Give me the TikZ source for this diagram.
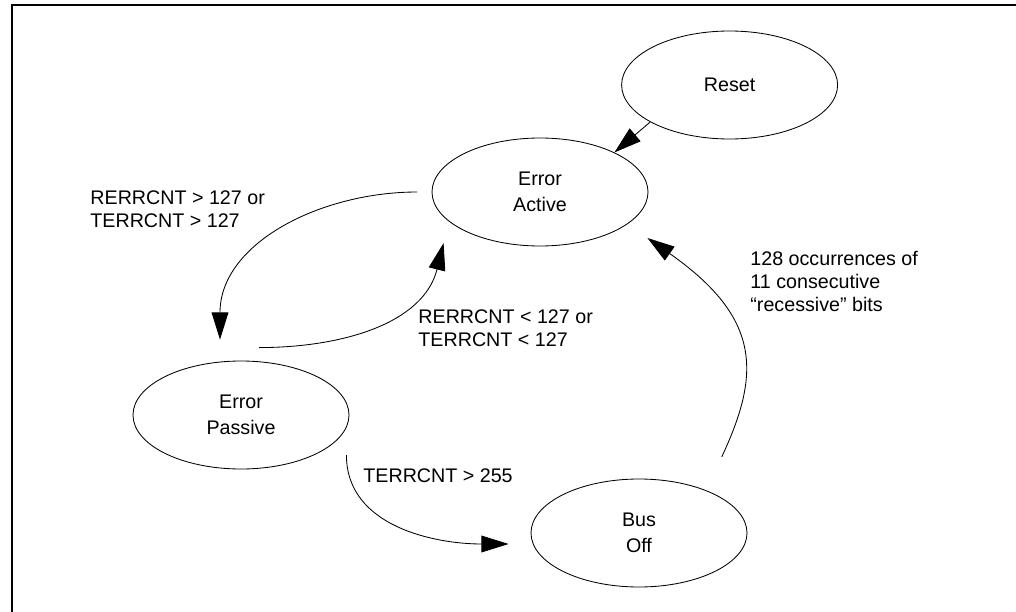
\documentclass[tikz,border=0pt]{standalone}
\usepackage{fontspec}
\setmainfont{Liberation Sans}
\usetikzlibrary{arrows.meta,automata,positioning,shapes.geometric}

\begin{document}
\begin{tikzpicture}[-{Triangle[length=0.68cm,width=0.42cm]},on grid,
line width=0.6pt]
\tikzstyle{every state}=[fill=white,shape=ellipse,draw,line width=0.6pt,text=black, align=center, minimum width=5.4cm, minimum height=2.7cm, inner sep=0pt, font=\fontsize{14}{18.9}\selectfont]
\tikzstyle{cond}=[anchor=west, align=left, inner sep=0pt, font=\fontsize{14}{16.35}\selectfont]

\useasboundingbox (0,0) rectangle (25.4,-15.3);
\draw[-,line width=1.5pt] (0.3,-15.4) |- (25.5,-0.125);

\node[state]		(rst) at (18.24,-2.125) {Reset};
\node[state]        (act) [below left=2.675cm and 4.74cm of rst] {Error\\Active};
\node[state]        (pas) [below left=5.575cm and 7.475cm of act] {Error\\Passive};
\node[state]        (off) [below right=2.95cm and 9.95cm of pas] {Bus\\Off};

\node[cond] (up)   at (2.25,-5.24)   {RERRCNT > 127 or\\TERRCNT > 127};
\node[cond] (down) at (10.45,-8.2)   {RERRCNT < 127 or\\TERRCNT < 127};
\node[cond] (boff) at (9.075,-11.9)  {TERRCNT > 255};
\node[cond] (rec)  at (18.75,-7.025) {128 occurrences of\\11 consecutive\\“recessive” bits};

\path (rst.205) edge (act.28)
([xshift=-0.36cm]act.west) edge[out=180,in=90] ([xshift=-0.525cm,yshift=0.525cm]pas.north)
([xshift=0.45cm,yshift=0.325cm]pas.north) edge[out=0,in=-104] ([xshift=0.3cm,yshift=-1.275cm]act.west)
([xshift=-0.075cm,yshift=-1cm]pas.east) edge[out=-90,in=180] ([xshift=-0.55cm,yshift=-0.275cm]off.west)
([xshift=2.07cm,yshift=0.545cm]off.north) edge[out=65,in=-35,out looseness=1,in looseness=1.56] ([xshift=-0.025cm,yshift=-1.15cm]act.east);
\end{tikzpicture}
\end{document}
